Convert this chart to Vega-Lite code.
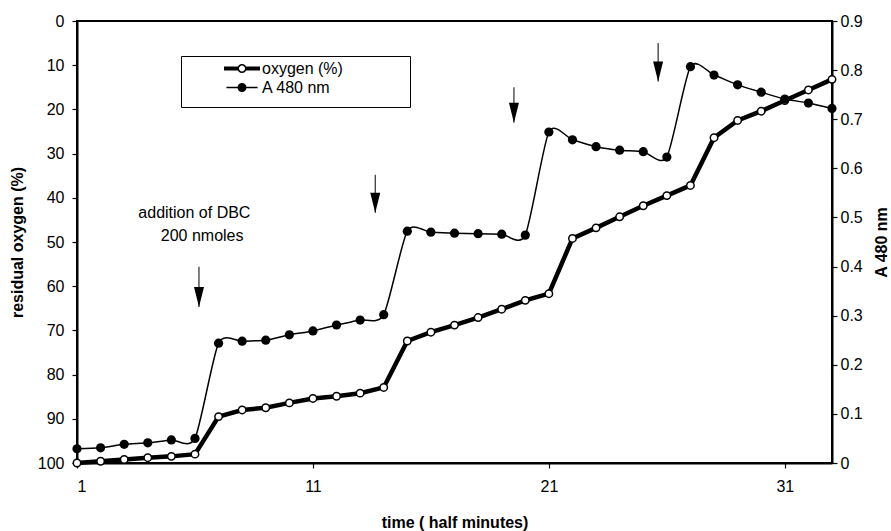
{
  "$schema": "https://vega.github.io/schema/vega-lite/v6.json",
  "width": 755,
  "height": 442,
  "autosize": {"type": "none"},
  "padding": {"left": 77, "top": 21, "right": 59, "bottom": 68},
  "background": "white",
  "config": {
    "font": "Liberation Sans",
    "view": {"stroke": "black", "strokeWidth": 2},
    "axis": {
      "labelFont": "Liberation Sans", "labelFontSize": 16, "labelColor": "black",
      "titleFont": "Liberation Sans", "titleFontSize": 16, "titleFontWeight": "bold", "titleColor": "black",
      "domainColor": "black", "domainWidth": 2, "tickColor": "black", "tickWidth": 1.2, "tickSize": 5, "grid": false
    }
  },
  "datasets": {
    "series": [
      {"t": 1, "oxygen": 100, "a480": 0.029},
      {"t": 2, "oxygen": 99.6, "a480": 0.031},
      {"t": 3, "oxygen": 99.2, "a480": 0.038},
      {"t": 4, "oxygen": 98.8, "a480": 0.041},
      {"t": 5, "oxygen": 98.5, "a480": 0.047},
      {"t": 6, "oxygen": 98.0, "a480": 0.050},
      {"t": 7, "oxygen": 89.5, "a480": 0.244},
      {"t": 8, "oxygen": 88.0, "a480": 0.248},
      {"t": 9, "oxygen": 87.5, "a480": 0.250},
      {"t": 10, "oxygen": 86.4, "a480": 0.261},
      {"t": 11, "oxygen": 85.4, "a480": 0.269},
      {"t": 12, "oxygen": 84.9, "a480": 0.281},
      {"t": 13, "oxygen": 84.2, "a480": 0.291},
      {"t": 14, "oxygen": 82.9, "a480": 0.302},
      {"t": 15, "oxygen": 72.4, "a480": 0.472},
      {"t": 16, "oxygen": 70.4, "a480": 0.470},
      {"t": 17, "oxygen": 68.8, "a480": 0.468},
      {"t": 18, "oxygen": 67.1, "a480": 0.467},
      {"t": 19, "oxygen": 65.2, "a480": 0.466},
      {"t": 20, "oxygen": 63.2, "a480": 0.464},
      {"t": 21, "oxygen": 61.7, "a480": 0.674},
      {"t": 22, "oxygen": 49.2, "a480": 0.658},
      {"t": 23, "oxygen": 46.8, "a480": 0.644},
      {"t": 24, "oxygen": 44.3, "a480": 0.637},
      {"t": 25, "oxygen": 41.8, "a480": 0.634},
      {"t": 26, "oxygen": 39.5, "a480": 0.623},
      {"t": 27, "oxygen": 37.2, "a480": 0.807},
      {"t": 28, "oxygen": 26.4, "a480": 0.790},
      {"t": 29, "oxygen": 22.5, "a480": 0.770},
      {"t": 30, "oxygen": 20.4, "a480": 0.755},
      {"t": 31, "oxygen": 18.0, "a480": 0.741},
      {"t": 32, "oxygen": 15.6, "a480": 0.733},
      {"t": 33, "oxygen": 13.2, "a480": 0.722}
    ],
    "arrows": [
      {"t": 6.17, "top": 55.6, "tip": 64.7},
      {"t": 13.64, "top": 34.8, "tip": 43.4},
      {"t": 19.52, "top": 15.0, "tip": 23.0},
      {"t": 25.63, "top": 5.0, "tip": 13.7}
    ],
    "notes": [
      {"t": 3.6, "y": 43.4, "label": "addition of DBC"},
      {"t": 4.55, "y": 48.6, "label": "200 nmoles"}
    ]
  },
  "layer": [
    {
      "layer": [
        {
          "data": {"name": "series"},
          "mark": {"type": "line", "color": "black", "strokeWidth": 4.5},
          "encoding": {
            "x": {"field": "t", "type": "quantitative",
              "scale": {"domain": [1, 33], "nice": false, "zero": false},
              "axis": {"values": [1, 11, 21, 31], "title": "time ( half minutes)", "labelPadding": 10, "titlePadding": 20}},
            "y": {"field": "oxygen", "type": "quantitative",
              "scale": {"domain": [0, 100], "reverse": true, "nice": false, "zero": false},
              "axis": {"orient": "left", "values": [0, 10, 20, 30, 40, 50, 60, 70, 80, 90, 100], "title": "residual oxygen (%)", "labelPadding": 8, "titlePadding": 12}},
            "stroke": {"datum": "oxygen (%)", "type": "nominal",
              "scale": {"domain": ["oxygen (%)", "A 480 nm"], "range": ["black", "black"]},
              "legend": {
                "title": null, "orient": "none", "legendX": 104, "legendY": 35,
                "padding": 2, "symbolOffset": 48.5, "labelOffset": 9.5, "symbolSize": 441,
                "labelFont": "Liberation Sans", "labelFontSize": 16, "labelColor": "black",
                "strokeColor": "black", "fillColor": "white", "rowPadding": 0,
                "encode": {
                  "symbols": {"update": {
                    "shape": {"signal": "datum.value === 'oxygen (%)' ? 'M-1.714,-0.19L-0.35,-0.19L-0.35,0.19L-1.714,0.19Z M0.35,-0.19L1.714,-0.19L1.714,0.19L0.35,0.19Z M0.43,0A0.43,0.43,0,1,1,-0.43,0A0.43,0.43,0,1,1,0.43,0Z M0.286,0A0.286,0.286,0,1,0,-0.286,0A0.286,0.286,0,1,0,0.286,0Z M15.8,0' : 'M-1.48,-0.07L1.48,-0.07L1.48,0.07L-1.48,0.07Z M0.43,0A0.43,0.43,0,1,1,-0.43,0A0.43,0.43,0,1,1,0.43,0Z M15.8,1.6'"},
                    "fill": {"value": "black"},
                    "fillOpacity": {"value": 1},
                    "stroke": {"value": "transparent"},
                    "strokeWidth": {"value": 0},
                    "size": {"value": 441}
                  }}
                }
              }}
          }
        },
        {
          "data": {"name": "series"},
          "mark": {"type": "point", "shape": "circle", "filled": true, "fill": "white", "stroke": "black", "strokeWidth": 1.5, "size": 55, "opacity": 1},
          "encoding": {
            "x": {"field": "t", "type": "quantitative"},
            "y": {"field": "oxygen", "type": "quantitative"}
          }
        },
        {
          "data": {"name": "arrows"},
          "mark": {"type": "rule", "color": "black", "strokeWidth": 1},
          "encoding": {
            "x": {"field": "t", "type": "quantitative"},
            "y": {"field": "top", "type": "quantitative"},
            "y2": {"field": "tip"}
          }
        },
        {
          "data": {"name": "arrows"},
          "mark": {"type": "point", "shape": "M-0.5,-1L0.5,-1L0,1Z", "filled": true, "fill": "black", "strokeWidth": 0, "size": 400, "yOffset": -10, "opacity": 1},
          "encoding": {
            "x": {"field": "t", "type": "quantitative"},
            "y": {"field": "tip", "type": "quantitative"}
          }
        },
        {
          "data": {"name": "notes"},
          "mark": {"type": "text", "align": "left", "baseline": "middle", "font": "Liberation Sans", "fontSize": 16, "color": "black"},
          "encoding": {
            "x": {"field": "t", "type": "quantitative"},
            "y": {"field": "y", "type": "quantitative"},
            "text": {"field": "label"}
          }
        }
      ]
    },
    {
      "layer": [
        {
          "data": {"name": "series"},
          "mark": {"type": "line", "color": "black", "strokeWidth": 1.5, "interpolate": "cardinal", "tension": 0.3},
          "encoding": {
            "x": {"field": "t", "type": "quantitative"},
            "y": {"field": "a480", "type": "quantitative",
              "scale": {"domain": [0, 0.9], "nice": false, "zero": false},
              "axis": {"orient": "right", "values": [0, 0.1, 0.2, 0.3, 0.4, 0.5, 0.6, 0.7, 0.8, 0.9], "format": "~g", "title": "A 480 nm", "titleAngle": 270, "labelPadding": 3, "titlePadding": 27}},
            "stroke": {"datum": "A 480 nm", "type": "nominal"}
          }
        },
        {
          "data": {"name": "series"},
          "mark": {"type": "point", "shape": "circle", "filled": true, "fill": "black", "strokeWidth": 0, "size": 85, "opacity": 1},
          "encoding": {
            "x": {"field": "t", "type": "quantitative"},
            "y": {"field": "a480", "type": "quantitative"}
          }
        }
      ]
    }
  ],
  "resolve": {"scale": {"y": "independent"}}
}
